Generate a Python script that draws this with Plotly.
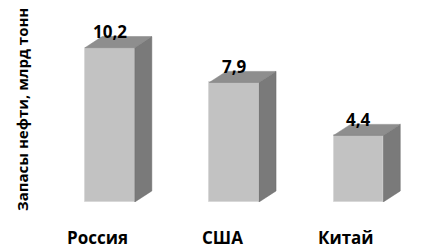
import plotly.graph_objects as go

categories = ["Россия", "США", "Китай"]
values = [10.2, 7.9, 4.4]
value_labels = ["10,2", "7,9", "4,4"]
y_title = "Запасы нефти, млрд тонн"

positions = list(range(len(categories)))
BAR_W = 0.40
DX = 0.137   # depth offset (x units)
DY = 0.73    # depth offset (y units)

FRONT = "#c2c2c2"
TOP = "#8e8e8e"
SIDE = "#7a7a7a"
FONT = "Open Sans"

fig = go.Figure()

fig.add_trace(go.Bar(
    x=positions, y=values, width=BAR_W,
    marker=dict(color=FRONT, line=dict(color="#d8d8d8", width=1)),
    hoverinfo="skip", showlegend=False,
))

for p, v in zip(positions, values):
    r = p + BAR_W / 2
    l = p - BAR_W / 2
    # side face
    fig.add_trace(go.Scatter(
        x=[r, r + DX, r + DX, r, r], y=[0, DY, v + DY, v, 0],
        fill="toself", fillcolor=SIDE, mode="lines",
        line=dict(color="#6a6a6a", width=0.5),
        hoverinfo="skip", showlegend=False,
    ))
    # top face
    fig.add_trace(go.Scatter(
        x=[l, r, r + DX, l + DX, l], y=[v, v, v + DY, v + DY, v],
        fill="toself", fillcolor=TOP, mode="lines",
        line=dict(color="#7e7e7e", width=0.5),
        hoverinfo="skip", showlegend=False,
    ))

annotations = []
for p, v, t in zip(positions, values, value_labels):
    annotations.append(dict(
        x=p, y=v, xref="x", yref="y", text=t, showarrow=False,
        yanchor="middle", yshift=16,
        font=dict(family=FONT, size=17, color="#000000", weight="bold"),
    ))
for p, c in zip(positions, categories):
    annotations.append(dict(
        x=p, y=0, xref="x", yref="y", text=c, showarrow=False,
        yanchor="middle", yshift=-35, xshift=-12,
        font=dict(family=FONT, size=17, color="#000000", weight="bold"),
    ))
annotations.append(dict(
    x=0, y=0.455, xref="paper", yref="paper", text=y_title, showarrow=False,
    textangle=-90, xanchor="center", yanchor="middle", xshift=-18,
    font=dict(family=FONT, size=15, color="#000000", weight="bold"),
))

fig.update_layout(
    width=423, height=250,
    margin=dict(l=40, r=0, t=0, b=48),
    paper_bgcolor="white", plot_bgcolor="white",
    xaxis=dict(range=[-0.563, 2.52], visible=False, fixedrange=True),
    yaxis=dict(range=[0, 13.35], visible=False, fixedrange=True),
    annotations=annotations,
    bargap=0,
)

fig.write_html("out.html", config={"displayModeBar": False})
